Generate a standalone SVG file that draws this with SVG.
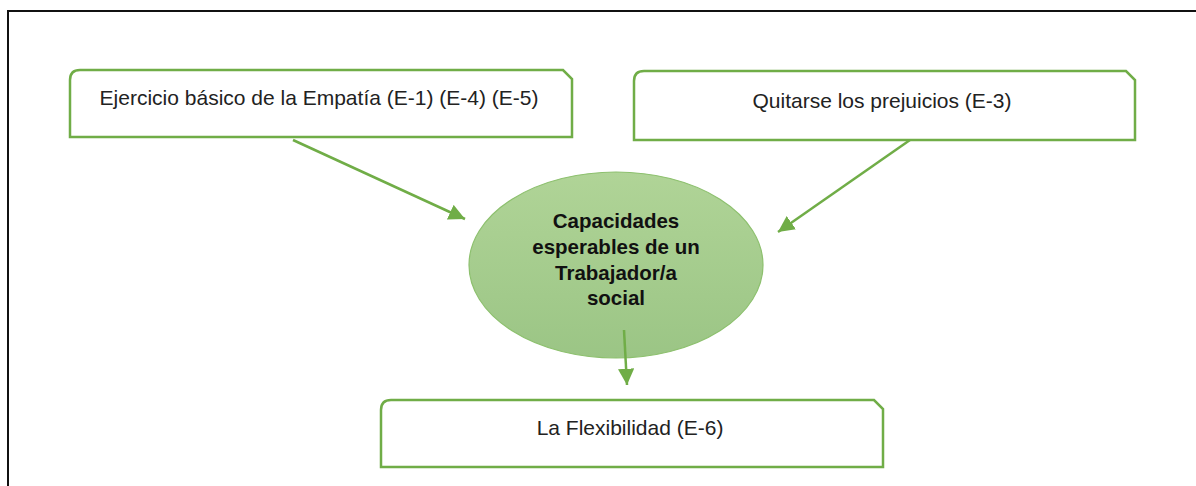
<svg xmlns="http://www.w3.org/2000/svg" width="1196" height="486" viewBox="0 0 1196 486">
<defs>
<style>
.box{fill:#ffffff;stroke:#70AD47;stroke-width:2.5}
.lbl{font-family:"Liberation Sans",Arial,sans-serif;font-size:21px;fill:#222;text-anchor:middle}
.bold{font-family:"Liberation Sans",Arial,sans-serif;font-size:20.5px;font-weight:bold;fill:#111;text-anchor:middle}
.conn{stroke:#70AD47;stroke-width:2.5;fill:none}
</style>
<linearGradient id="g" x1="0" y1="0" x2="0" y2="1">
<stop offset="0" stop-color="#B0D497"/>
<stop offset="1" stop-color="#9BC585"/>
</linearGradient>
<marker id="arr" viewBox="0 0 10 10" refX="10" refY="5" markerWidth="6.5" markerHeight="6.5" markerUnits="strokeWidth" orient="auto">
<path d="M0,0 L10,5 L0,10 Z" fill="#70AD47"/>
</marker>
</defs>
<rect width="1196" height="486" fill="#ffffff"/>
<rect x="8" y="11" width="1200" height="490" fill="none" stroke="#111" stroke-width="2"/>
<g id="n1">
<path class="box" d="M70,137 L70,80 Q70,70 80,70 L563,70 L572,79 L572,137 Z"/>
<text class="lbl" x="319" y="105">Ejercicio básico de la Empatía (E-1) (E-4) (E-5)</text>
</g>
<g id="n2">
<path class="box" d="M634,140 L634,81 Q634,71 644,71 L1126,71 L1135,80 L1135,140 Z"/>
<text class="lbl" x="882" y="108">Quitarse los prejuicios (E-3)</text>
</g>
<g id="n3">
<path class="box" d="M381,467 L381,410 Q381,400 391,400 L874,400 L883,409 L883,467 Z"/>
<text class="lbl" x="630" y="435">La Flexibilidad (E-6)</text>
</g>
<g id="center">
<ellipse cx="616" cy="265" rx="147" ry="93" fill="url(#g)" stroke="#8DC06E" stroke-width="1.2"/>
<text class="bold" x="616" y="228">Capacidades</text>
<text class="bold" x="616" y="254">esperables de un</text>
<text class="bold" x="616" y="280">Trabajador/a</text>
<text class="bold" x="616" y="305">social</text>
</g>
<g id="connectors">
<line class="conn" x1="293" y1="140" x2="465" y2="219" marker-end="url(#arr)"/>
<line class="conn" x1="910" y1="140" x2="778" y2="232" marker-end="url(#arr)"/>
<line class="conn" x1="624" y1="330" x2="627" y2="385" marker-end="url(#arr)"/>
</g>
</svg>
